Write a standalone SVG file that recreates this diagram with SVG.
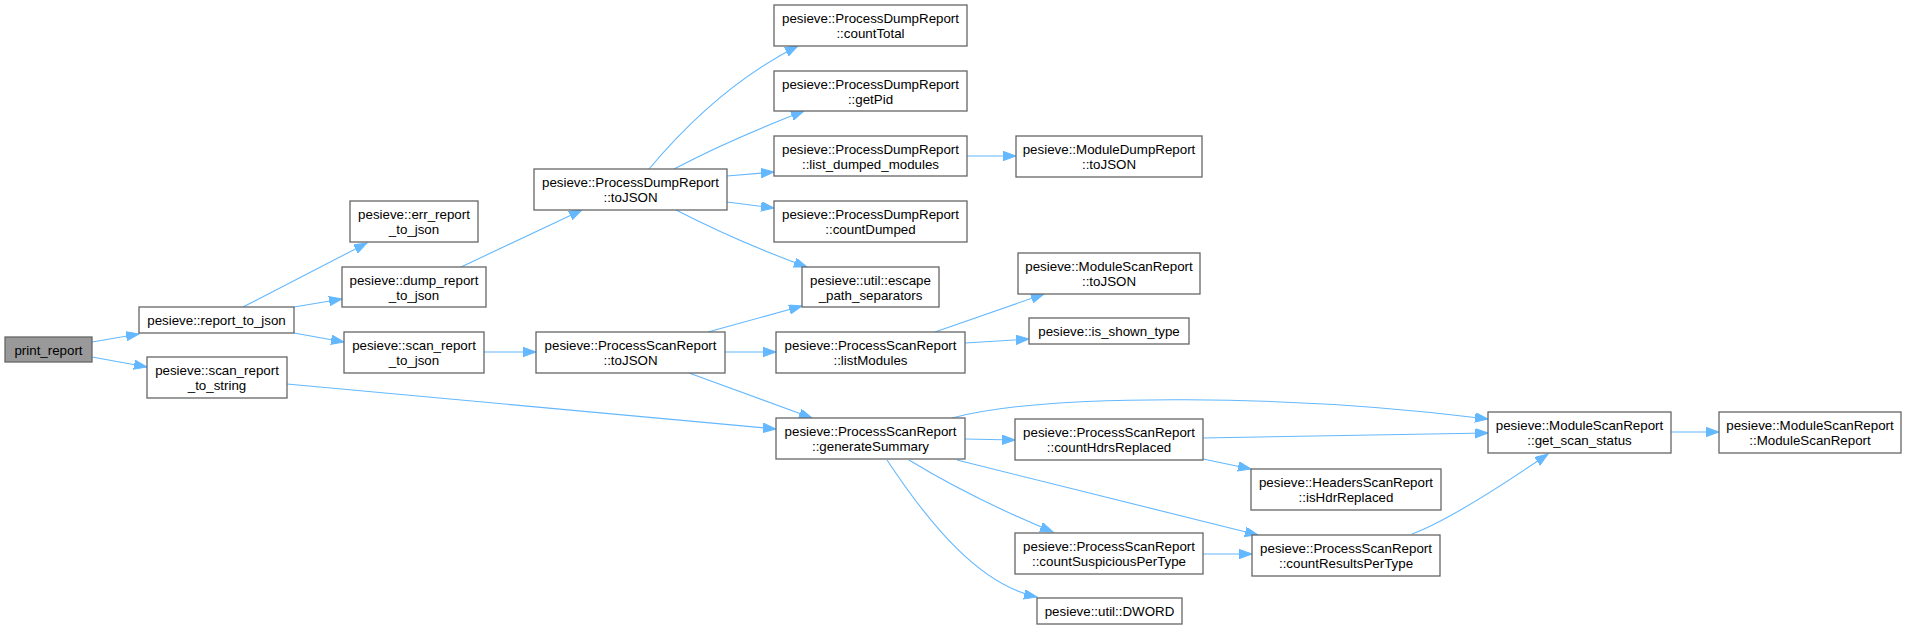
<svg xmlns="http://www.w3.org/2000/svg" width="1907" height="629" viewBox="0 0 1907 629">
<style>
.n rect{fill:#ffffff;stroke:#666666;stroke-width:1.3}
.n.cur rect{fill:#999999}
.n text{font-family:"Liberation Sans",Arial,Helvetica,sans-serif;font-size:13.33px;fill:#000000;text-anchor:middle}
#edges path{fill:none;stroke:#63b8ff;stroke-width:1.1;marker-end:url(#ah)}
</style>
<defs>
<marker id="ah" markerUnits="userSpaceOnUse" markerWidth="14" markerHeight="10" refX="13" refY="4.7" orient="auto">
<path d="M0,0 L13,4.7 L0,9.4 Z" fill="#63b8ff" stroke="#63b8ff" stroke-width="1"/>
</marker>
</defs>
<rect width="1907" height="629" fill="#ffffff"/>
<g id="edges">
<path d="M92,342 L139,334"/>
<path d="M92,357 L147,367"/>
<path d="M243,307 L367,243"/>
<path d="M294,307 L342,299"/>
<path d="M294,333 L344,342"/>
<path d="M461,267 L582,210"/>
<path d="M484,352 L536,352"/>
<path d="M287,384 L776,429"/>
<path d="M649,169 C690,120 740,75 798,46"/>
<path d="M674,169 C710,150 760,128 804,111"/>
<path d="M727,176 L774,172"/>
<path d="M727,202 L774,208"/>
<path d="M676,210 C715,230 760,250 807,267"/>
<path d="M967,156 L1016,156"/>
<path d="M708,332 L802,306"/>
<path d="M725,352 L776,352"/>
<path d="M689,373 L812,418"/>
<path d="M935,332 L1044,294"/>
<path d="M965,343 L1029,339"/>
<path d="M952,418 C1050,392 1300,395 1488,419"/>
<path d="M965,439 L1015,440"/>
<path d="M957,460 L1258,535"/>
<path d="M909,460 C950,485 1000,510 1053,532"/>
<path d="M887,460 C930,525 980,585 1037,597"/>
<path d="M1203,438 L1488,433"/>
<path d="M1203,459 L1251,469"/>
<path d="M1203,554 L1252,554"/>
<path d="M1412,534 C1450,520 1510,480 1548,454"/>
<path d="M1671,432 L1719,432"/>
</g>
<g id="print_report" class="n cur"><rect x="5" y="337" width="87" height="25"/><text x="48.5" y="354.5">print_report</text></g>
<g id="report_to_json" class="n"><rect x="139" y="307" width="155" height="26"/><text x="216.5" y="324.5">pesieve::report_to_json</text></g>
<g id="scan_report_to_string" class="n"><rect x="147" y="357" width="140" height="41"/><text x="217" y="374.5">pesieve::scan_report</text><text x="217" y="389.5">_to_string</text></g>
<g id="err_report_to_json" class="n"><rect x="350" y="201" width="128" height="41"/><text x="414" y="218.5">pesieve::err_report</text><text x="414" y="233.5">_to_json</text></g>
<g id="dump_report_to_json" class="n"><rect x="342" y="267" width="144" height="40"/><text x="414" y="284.5">pesieve::dump_report</text><text x="414" y="299.5">_to_json</text></g>
<g id="scan_report_to_json" class="n"><rect x="344" y="332" width="140" height="41"/><text x="414" y="349.5">pesieve::scan_report</text><text x="414" y="364.5">_to_json</text></g>
<g id="pdr_toJSON" class="n"><rect x="534" y="169" width="193" height="41"/><text x="630.5" y="186.5">pesieve::ProcessDumpReport</text><text x="630.5" y="201.5">::toJSON</text></g>
<g id="psr_toJSON" class="n"><rect x="536" y="332" width="189" height="41"/><text x="630.5" y="349.5">pesieve::ProcessScanReport</text><text x="630.5" y="364.5">::toJSON</text></g>
<g id="pdr_countTotal" class="n"><rect x="774" y="5" width="193" height="41"/><text x="870.5" y="22.5">pesieve::ProcessDumpReport</text><text x="870.5" y="37.5">::countTotal</text></g>
<g id="pdr_getPid" class="n"><rect x="774" y="71" width="193" height="40"/><text x="870.5" y="88.5">pesieve::ProcessDumpReport</text><text x="870.5" y="103.5">::getPid</text></g>
<g id="pdr_list_dumped_modules" class="n"><rect x="774" y="136" width="193" height="40"/><text x="870.5" y="153.5">pesieve::ProcessDumpReport</text><text x="870.5" y="168.5">::list_dumped_modules</text></g>
<g id="pdr_countDumped" class="n"><rect x="774" y="201" width="193" height="41"/><text x="870.5" y="218.5">pesieve::ProcessDumpReport</text><text x="870.5" y="233.5">::countDumped</text></g>
<g id="escape_path_separators" class="n"><rect x="802" y="267" width="137" height="40"/><text x="870.5" y="284.5">pesieve::util::escape</text><text x="870.5" y="299.5">_path_separators</text></g>
<g id="psr_listModules" class="n"><rect x="776" y="332" width="189" height="41"/><text x="870.5" y="349.5">pesieve::ProcessScanReport</text><text x="870.5" y="364.5">::listModules</text></g>
<g id="psr_generateSummary" class="n"><rect x="776" y="418" width="189" height="41"/><text x="870.5" y="435.5">pesieve::ProcessScanReport</text><text x="870.5" y="450.5">::generateSummary</text></g>
<g id="mdr_toJSON" class="n"><rect x="1016" y="136" width="186" height="41"/><text x="1109" y="153.5">pesieve::ModuleDumpReport</text><text x="1109" y="168.5">::toJSON</text></g>
<g id="msr_toJSON" class="n"><rect x="1018" y="253" width="182" height="41"/><text x="1109" y="270.5">pesieve::ModuleScanReport</text><text x="1109" y="285.5">::toJSON</text></g>
<g id="is_shown_type" class="n"><rect x="1029" y="318" width="160" height="26"/><text x="1109" y="335.5">pesieve::is_shown_type</text></g>
<g id="psr_countHdrsReplaced" class="n"><rect x="1015" y="419" width="188" height="41"/><text x="1109" y="436.5">pesieve::ProcessScanReport</text><text x="1109" y="451.5">::countHdrsReplaced</text></g>
<g id="psr_countSuspiciousPerType" class="n"><rect x="1015" y="533" width="188" height="41"/><text x="1109" y="550.5">pesieve::ProcessScanReport</text><text x="1109" y="565.5">::countSuspiciousPerType</text></g>
<g id="util_DWORD" class="n"><rect x="1037" y="598" width="145" height="26"/><text x="1109.5" y="615.5">pesieve::util::DWORD</text></g>
<g id="hsr_isHdrReplaced" class="n"><rect x="1251" y="469" width="190" height="41"/><text x="1346" y="486.5">pesieve::HeadersScanReport</text><text x="1346" y="501.5">::isHdrReplaced</text></g>
<g id="psr_countResultsPerType" class="n"><rect x="1252" y="535" width="188" height="41"/><text x="1346" y="552.5">pesieve::ProcessScanReport</text><text x="1346" y="567.5">::countResultsPerType</text></g>
<g id="msr_get_scan_status" class="n"><rect x="1488" y="412" width="183" height="41"/><text x="1579.5" y="429.5">pesieve::ModuleScanReport</text><text x="1579.5" y="444.5">::get_scan_status</text></g>
<g id="msr_ModuleScanReport" class="n"><rect x="1719" y="412" width="182" height="41"/><text x="1810" y="429.5">pesieve::ModuleScanReport</text><text x="1810" y="444.5">::ModuleScanReport</text></g>
</svg>
